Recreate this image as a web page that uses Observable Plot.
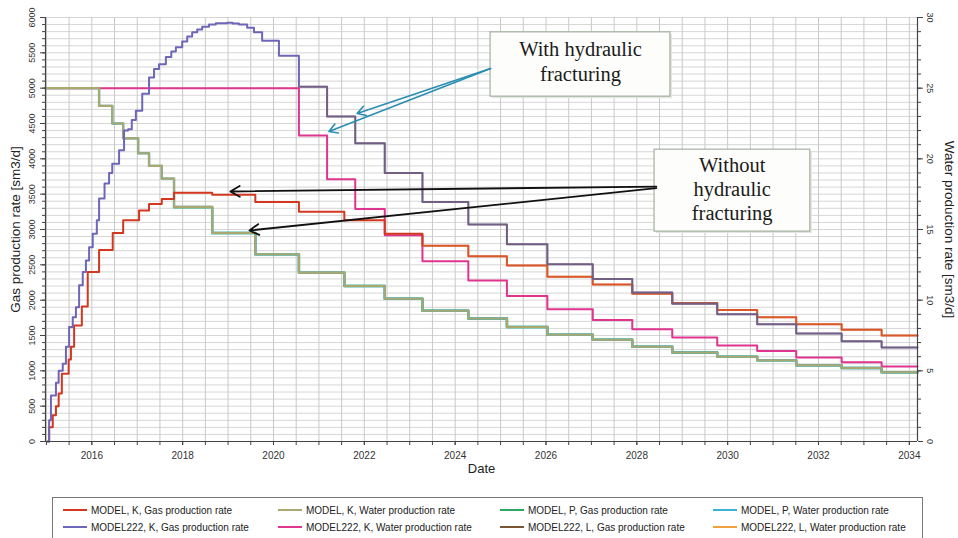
<!DOCTYPE html>
<html><head><meta charset="utf-8">
<script src="https://cdn.jsdelivr.net/npm/d3@7"></script>
<script src="https://cdn.jsdelivr.net/npm/@observablehq/plot@0.6"></script>
<style>
body{margin:0;background:#fff;font-family:"Liberation Sans",Arial,sans-serif;}
#wrap{position:relative;width:958px;height:538px;overflow:hidden;background:#fff}
#legend{position:absolute;left:52px;top:497px;width:871px;height:48px;border:1px solid #777;box-sizing:border-box;font-size:10px;color:#222;background:#fff}
.item{position:absolute;display:flex;align-items:center;white-space:nowrap;height:14px}
.sw{display:inline-block;width:24px;height:2px;margin-right:4px}
</style></head><body><div id="wrap"><div id="chart"></div><div id="legend"></div></div>
<script>
// ---- data (gas in sm3/d on left axis, water in sm3/d on right axis) ----
const modelKGasYears = [2015.03,2015.06,2015.14,2015.21,2015.27,2015.34,2015.49,2015.54,2015.61,2015.78,2015.91,2016.16,2016.46,2016.69,2017.04,2017.26,2017.54,2017.81,2018.65,2019.60,2020.56,2021.56,2022.45,2023.28,2024.29,2025.14,2026.03,2027.03,2027.90,2028.78,2029.77,2030.65,2031.51,2032.51,2033.39,2034.18];
const modelKGas = [0,200,370,500,680,960,1160,1340,1640,1910,2400,2710,2950,3130,3270,3360,3430,3520,3490,3390,3250,3130,2940,2770,2620,2490,2330,2220,2090,1960,1860,1760,1660,1580,1500,1500];

const modelKWaterYears = [2014.98,2016.16,2016.45,2016.69,2017.02,2017.26,2017.54,2017.81,2018.65,2019.60,2020.56,2021.56,2022.45,2023.28,2024.29,2025.14,2026.03,2027.03,2027.90,2028.78,2029.77,2030.65,2031.51,2032.51,2033.39,2034.18];
const modelKWater = [25,23.75,22.5,21.45,20.4,19.5,18.6,16.6,14.75,13.25,11.95,11.0,10.1,9.25,8.7,8.1,7.55,7.2,6.7,6.3,6.0,5.75,5.4,5.2,4.9,4.9];

const modelPGasYears = [2017.81,2018.65,2019.60,2020.56,2021.56,2022.45,2023.28,2024.29,2025.14,2026.03,2027.03,2027.90,2028.78,2029.77,2030.65,2031.51,2032.51,2033.39,2034.18];
const modelPGas = [3315,2950,2650,2390,2200,2020,1850,1740,1620,1510,1440,1340,1260,1200,1150,1080,1040,980,980];

const modelPWaterYears = [2014.98,2016.16,2016.45,2016.69,2017.02,2017.26,2017.54,2017.81,2018.65,2019.60,2020.56,2021.56,2022.45,2023.28,2024.29,2025.14,2026.03,2027.03,2027.90,2028.78,2029.77,2030.65,2031.51,2032.51,2033.39,2034.18];
const modelPWater = [25,23.75,22.5,21.45,20.4,19.5,18.6,16.6,14.75,13.25,11.95,11.0,10.1,9.25,8.7,8.1,7.55,7.2,6.7,6.3,6.0,5.75,5.4,5.2,4.9,4.9];

const model222KGasYears = [2015.03,2015.06,2015.10,2015.21,2015.27,2015.36,2015.43,2015.50,2015.58,2015.65,2015.72,2015.80,2015.87,2015.94,2016.02,2016.11,2016.16,2016.28,2016.38,2016.45,2016.60,2016.71,2016.80,2016.88,2016.97,2017.11,2017.26,2017.37,2017.48,2017.63,2017.75,2017.85,2017.99,2018.10,2018.21,2018.32,2018.43,2018.58,2018.73,2018.98,2019.10,2019.24,2019.42,2019.57,2019.75,2020.12,2020.56,2021.18,2021.80,2022.45,2023.28,2024.29,2025.14,2026.03,2027.03,2027.90,2028.78,2029.77,2030.65,2031.51,2032.51,2033.39,2034.18];
const model222KGas = [0,300,650,830,1000,1100,1340,1620,1760,1900,2210,2400,2560,2750,2940,3130,3440,3650,3800,3930,4120,4400,4420,4550,4680,4920,5150,5270,5340,5440,5520,5580,5660,5730,5790,5830,5870,5900,5920,5925,5915,5900,5855,5790,5670,5460,5020,4600,4220,3800,3390,3070,2790,2510,2300,2110,1950,1800,1660,1530,1420,1330,1330];

const model222KWaterYears = [2014.98,2020.56,2021.18,2021.80,2022.45,2023.28,2024.29,2025.14,2026.03,2027.03,2027.90,2028.78,2029.77,2030.65,2031.51,2032.51,2033.39,2034.18];
const model222KWater = [25,21.65,18.55,16.45,14.6,12.75,11.4,10.3,9.35,8.6,7.95,7.35,6.8,6.4,5.95,5.6,5.3,5.3];

const model222LGasYears = [2020.56,2021.18,2021.80,2022.45,2023.28,2024.29,2025.14,2026.03,2027.03,2027.90,2028.78,2029.77,2030.65,2031.51,2032.51,2033.39,2034.18];
const model222LGas = [5020,4600,4220,3800,3390,3070,2790,2510,2300,2110,1950,1800,1660,1530,1420,1330,1330];

const model222LWaterYears = [2023.28,2024.29,2025.14,2026.03,2027.03,2027.90,2028.78,2029.77,2030.65,2031.51,2032.51,2033.39,2034.18];
const model222LWater = [13.85,13.1,12.45,11.65,11.1,10.45,9.8,9.3,8.8,8.3,7.9,7.5,7.5];

const xTickYears = [2016,2018,2020,2022,2024,2026,2028,2030,2032,2034];
const leftTickLabels = [0,500,1000,1500,2000,2500,3000,3500,4000,4500,5000,5500,6000];
const rightTickLabels = [0,5,10,15,20,25,30];

const seriesNames = ["MODEL, K, Gas production rate","MODEL, K, Water production rate","MODEL, P, Gas production rate","MODEL, P, Water production rate","MODEL222, K, Gas production rate","MODEL222, K, Water production rate","MODEL222, L, Gas production rate","MODEL222, L, Water production rate"];
const seriesColors = ["#d2381f","#aaa86e","#2aa862","#3ab3d4","#6e66b8","#e0358f","#7a5530","#f0a040"];

// annotations (data coordinates: year, gas-axis value)
const boxYears1 = [2024.78, 2028.74]; const boxVals1 = [5790, 4880];
const boxYears2 = [2028.39, 2031.82]; const boxVals2 = [4130, 2970];
const noteLines = [
  {x: 2026.76, y: 5545, t: "With hydraulic"},
  {x: 2026.76, y: 5190, t: "fracturing"},
  {x: 2030.10, y: 3910, t: "Without"},
  {x: 2030.10, y: 3566, t: "hydraulic"},
  {x: 2030.10, y: 3226, t: "fracturing"}
];
const arrowsTeal = [
  {x1: 2024.78, y1: 5278, x2: 2021.84, y2: 4641},
  {x1: 2024.78, y1: 5278, x2: 2021.22, y2: 4387}
];
const arrowsBlack = [
  {x1: 2028.43, y1: 3608, x2: 2019.05, y2: 3538},
  {x1: 2028.43, y1: 3585, x2: 2019.47, y2: 2986}
];

const WATER_TO_AXIS = 200; // right axis 0-30 maps onto left axis 0-6000
const xDomain = [2014.98, 2034.18];

function rows(years, vals, k) { return years.map((y, i) => ({x: y, y: vals[i] * k})); }

const lineOpts = (c, w, o) => ({x: "x", y: "y", stroke: c, strokeWidth: w, curve: "step-after", strokeOpacity: o});

const plot = Plot.plot({
  width: 958, height: 485,
  marginLeft: 45, marginRight: 41, marginTop: 17, marginBottom: 44,
  x: {type: "linear", domain: xDomain},
  y: {domain: [0, 6000]},
  style: {fontFamily: "Liberation Sans, Arial, sans-serif", background: "white", color: "#333"},
  marks: [
    Plot.ruleY(d3.range(0, 6001, 100), {stroke: "#d6d6d6", strokeWidth: 1}),
    Plot.ruleX(d3.range(2015, 2034.01, 0.5), {stroke: "#c9c9c9", strokeWidth: 1}),
    Plot.line(rows(model222KWaterYears, model222KWater, WATER_TO_AXIS), lineOpts(seriesColors[5], 2, 1)),
    Plot.line(rows(modelPGasYears, modelPGas, 1), lineOpts(seriesColors[2], 2.4, 1)),
    Plot.line(rows(modelPWaterYears, modelPWater, WATER_TO_AXIS), lineOpts(seriesColors[3], 2.4, 1)),
    Plot.line(rows(modelKWaterYears, modelKWater, WATER_TO_AXIS), lineOpts(seriesColors[1], 2.1, 1)),
    Plot.line(rows(modelKGasYears, modelKGas, 1), lineOpts(seriesColors[0], 2, 1)),
    Plot.line(rows(model222LWaterYears, model222LWater, WATER_TO_AXIS), lineOpts(seriesColors[7], 2, 0.3)),
    Plot.line(rows(model222KGasYears, model222KGas, 1), lineOpts(seriesColors[4], 2, 1)),
    Plot.line(rows(model222LGasYears, model222LGas, 1), lineOpts(seriesColors[6], 2, 0.4)),
    // frame
    Plot.ruleY([0], {stroke: "#444", strokeWidth: 1.2}),
    Plot.ruleX(xDomain, {stroke: "#444", strokeWidth: 1.2}),
    // axes ticks
    Plot.axisX(d3.range(2015, 2034.01, 0.5), {tickSize: 4, tickFormat: () => "", stroke: "#444", label: null}),
    Plot.axisX(xTickYears, {tickSize: 4, tickPadding: 6, tickFormat: d => String(d), fontSize: 10, fill: "#333", stroke: "#444", label: null}),
    Plot.axisY(d3.range(0, 6001, 100), {anchor: "left", tickSize: 3, tickFormat: () => "", stroke: "#444", label: null}),
    Plot.axisY(leftTickLabels, {anchor: "left", tickSize: 5, tickFormat: () => "", stroke: "#444", label: null}),
    Plot.axisY(d3.range(0, 6001, 200), {anchor: "right", tickSize: 3, tickFormat: () => "", stroke: "#444", label: null}),
    Plot.axisY(rightTickLabels.map(d => d * WATER_TO_AXIS), {anchor: "right", tickSize: 5, tickFormat: () => "", stroke: "#444", label: null}),
    Plot.text(leftTickLabels, {y: d => d, text: d => String(d), frameAnchor: "left", textAnchor: "middle", dx: -13, rotate: -90, fontSize: 9, fill: "#333"}),
    Plot.text(rightTickLabels, {y: d => d * WATER_TO_AXIS, text: d => String(d), frameAnchor: "right", textAnchor: "middle", dx: 12, rotate: 90, fontSize: 9, fill: "#333"}),
    Plot.text(["Gas production rate [sm3/d]"], {frameAnchor: "left", textAnchor: "middle", dx: -30, rotate: -90, fontSize: 13.5, fill: "#222"}),
    Plot.text(["Water production rate [sm3/d]"], {frameAnchor: "right", textAnchor: "middle", dx: 32, rotate: 90, fontSize: 13.5, fill: "#222"}),
    Plot.text(["Date"], {frameAnchor: "bottom", dy: 31, fontSize: 13, fill: "#222"}),
    // annotations
    Plot.rect([{a: boxYears1, b: boxVals1}, {a: boxYears2, b: boxVals2}], {x1: d => d.a[0], x2: d => d.a[1], y1: d => d.b[0], y2: d => d.b[1], fill: "#e4e4e0", dx: 2, dy: 2}),
    Plot.rect([{a: boxYears1, b: boxVals1}, {a: boxYears2, b: boxVals2}], {x1: d => d.a[0], x2: d => d.a[1], y1: d => d.b[0], y2: d => d.b[1], fill: "#fdfdfb", stroke: "#a3b0a0", strokeWidth: 1.2}),
    Plot.text(noteLines, {x: "x", y: "y", text: "t", fontFamily: "Liberation Serif, Times New Roman, serif", fontSize: 20.5, fill: "#1a1a1a"}),
    Plot.arrow(arrowsTeal, {x1: "x1", y1: "y1", x2: "x2", y2: "y2", stroke: "#2a8db2", strokeWidth: 1.6, headLength: 9}),
    Plot.arrow(arrowsBlack, {x1: "x1", y1: "y1", x2: "x2", y2: "y2", stroke: "#111", strokeWidth: 1.8, headLength: 9})
  ]
});
document.getElementById("chart").appendChild(plot);

// legend
const legend = document.getElementById("legend");
const colLeft = [10, 225, 447, 660];
const rowTop = [5, 22];
seriesNames.forEach((name, i) => {
  const el = document.createElement("div");
  el.className = "item";
  el.style.left = colLeft[i % 4] + "px";
  el.style.top = rowTop[Math.floor(i / 4)] + "px";
  const sw = document.createElement("span");
  sw.className = "sw";
  sw.style.background = seriesColors[i];
  el.appendChild(sw);
  el.appendChild(document.createTextNode(name));
  legend.appendChild(el);
});
</script>
</body></html>
